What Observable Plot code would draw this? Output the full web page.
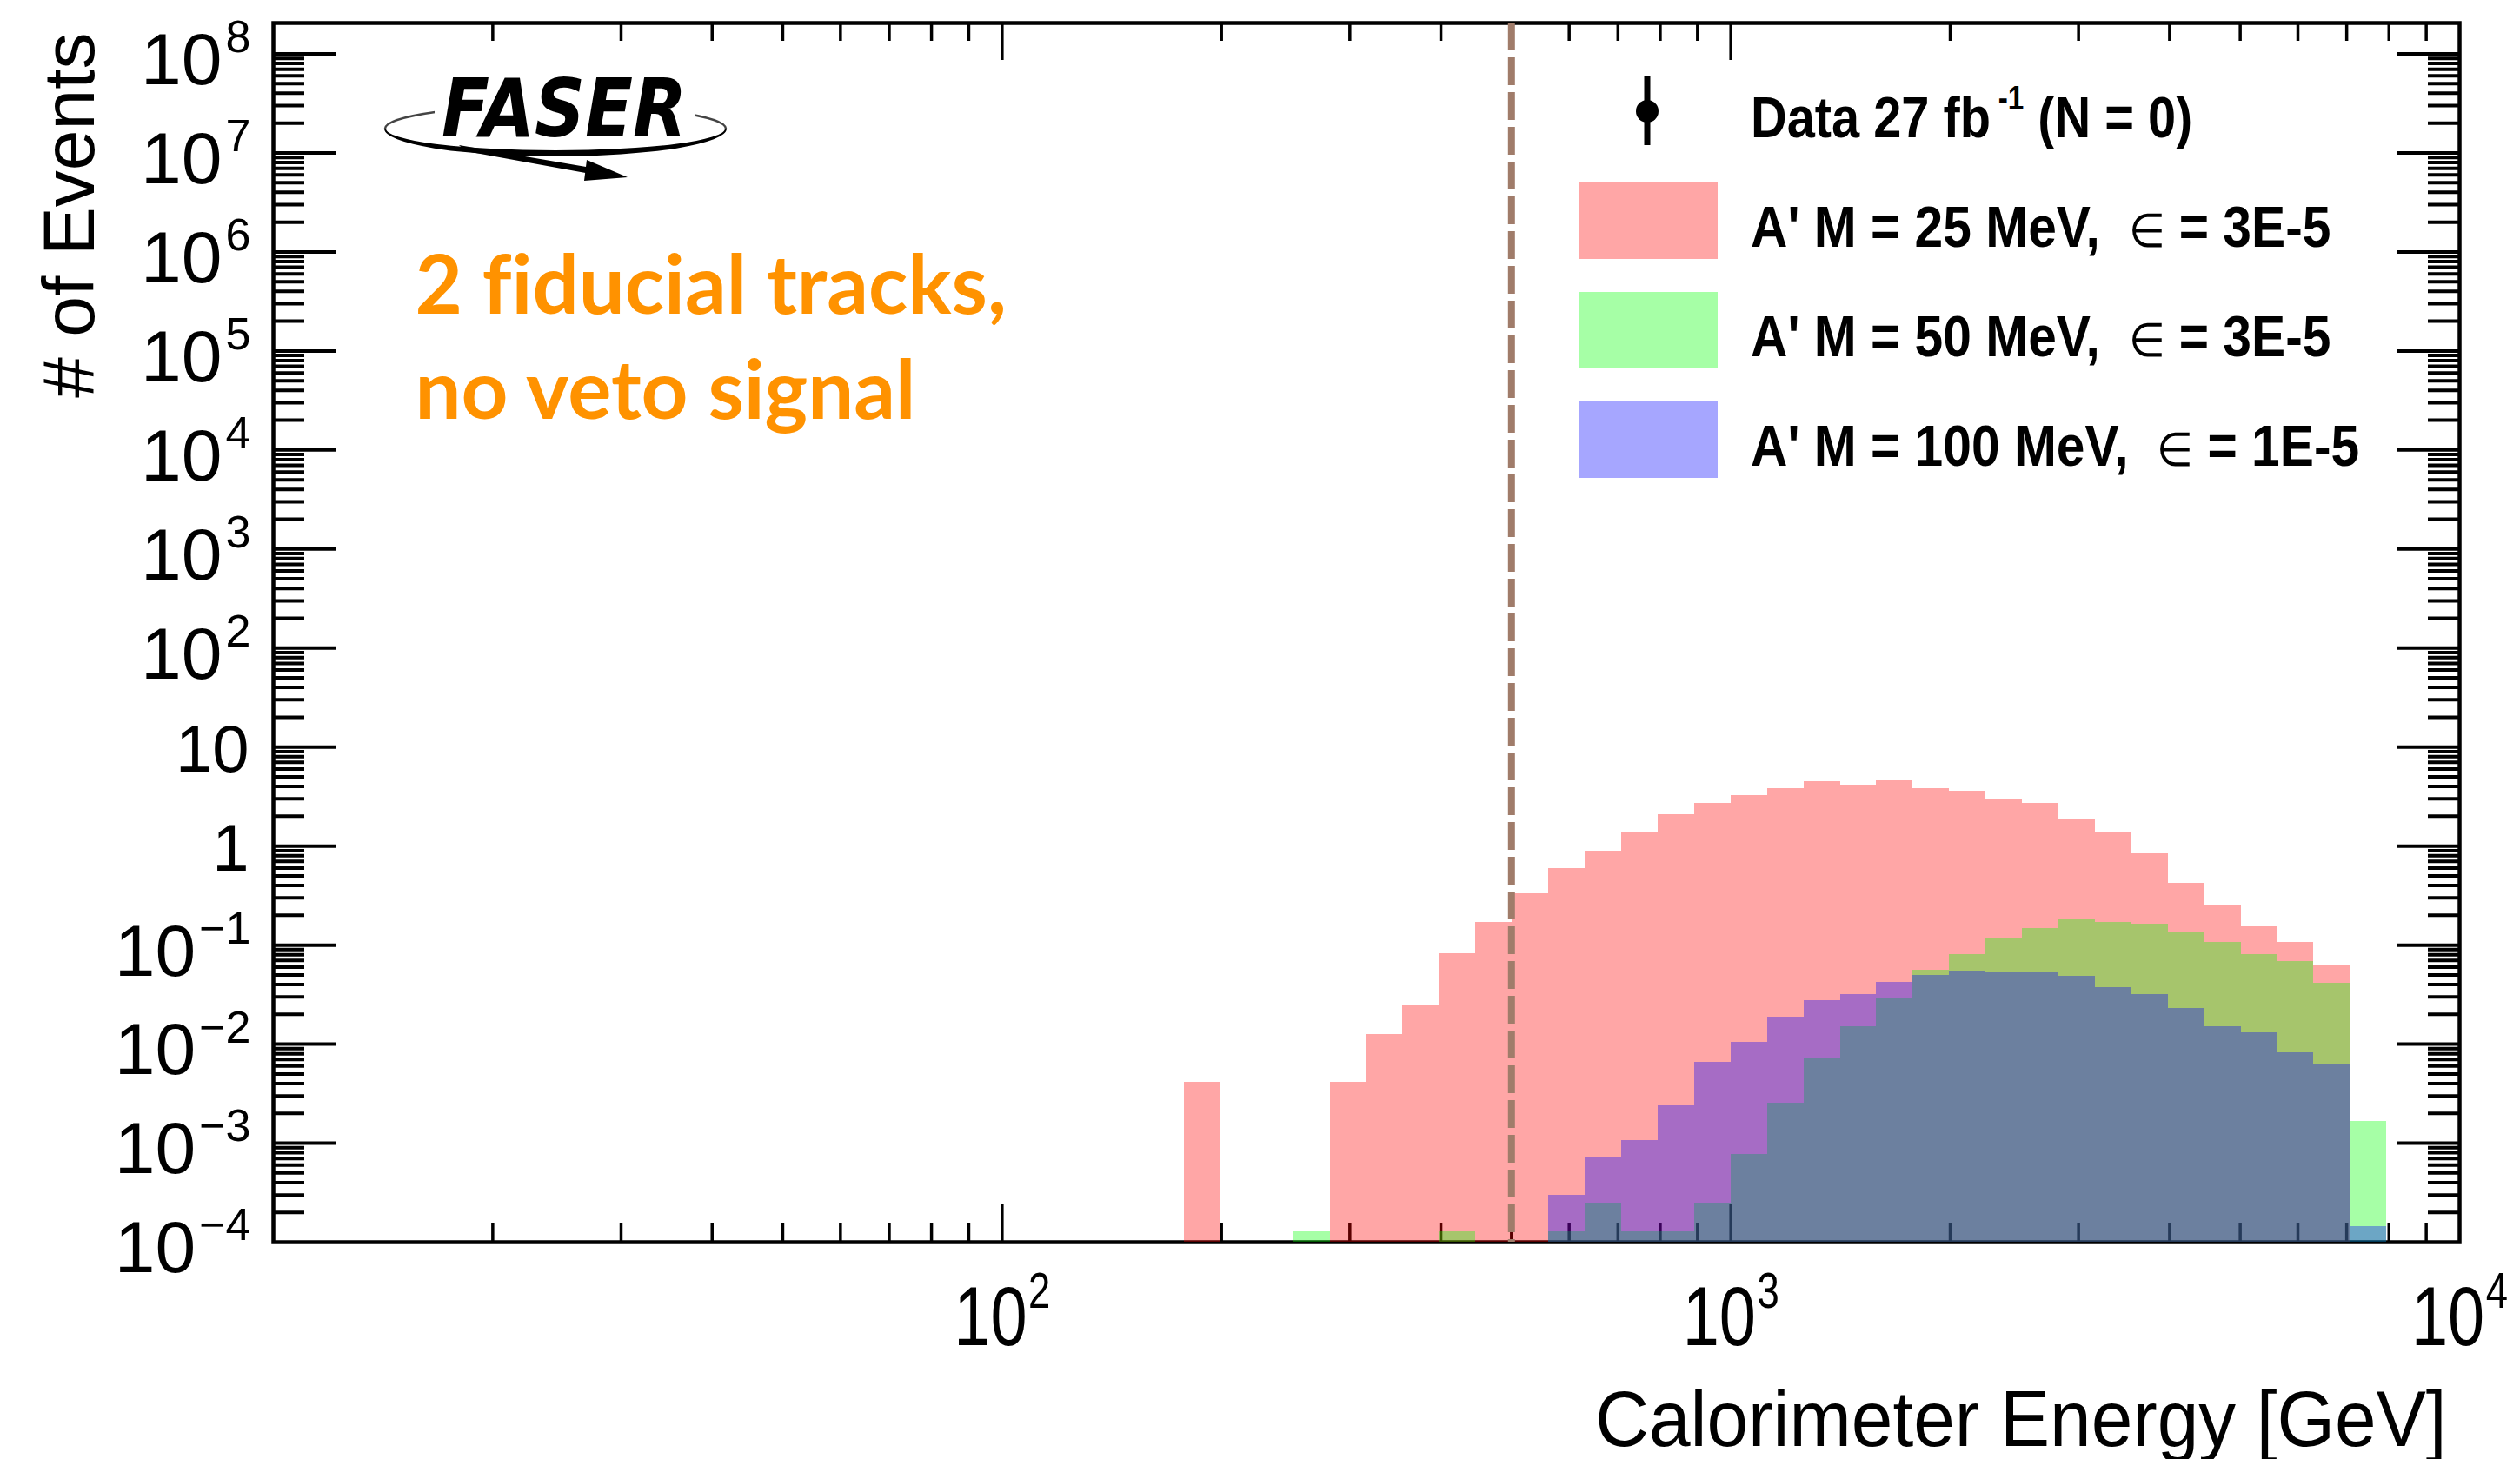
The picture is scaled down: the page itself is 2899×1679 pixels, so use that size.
<!DOCTYPE html>
<html>
<head>
<meta charset="utf-8">
<script src="https://cdn.jsdelivr.net/npm/d3@7"></script>
<script src="https://cdn.jsdelivr.net/npm/@observablehq/plot@0.6"></script>
<style>
  html, body { margin: 0; padding: 0; background: #fff; overflow: hidden; }
</style>
</head>
<body>
<div id="chart"></div>
<script>
// ---- Calorimeter energy spectra of A' signal samples (2 fiducial tracks, no veto) ----
// Bin edges in GeV: 20 bins per decade, from 10^2.25 to 10^3.90
const binEdges = [177.8, 199.5, 223.9, 251.2, 281.8, 316.2, 354.8, 398.1, 446.7, 501.2,
  562.3, 631.0, 707.9, 794.3, 891.3, 1000, 1122, 1259, 1413, 1585,
  1778, 1995, 2239, 2512, 2818, 3162, 3548, 3981, 4467, 5012,
  5623, 6310, 7079, 7943];

// Expected events per bin
const aprime25 = [4.1e-3, 0, 0, 0, 4.1e-3, 0.0124, 0.025, 0.082, 0.168, 0.331,
  0.589, 0.891, 1.40, 2.07, 2.68, 3.24, 3.81, 4.47, 4.09, 4.61,
  3.81, 3.57, 2.95, 2.68, 1.87, 1.36, 0.84, 0.417, 0.254, 0.153,
  0.107, 0.062, 0];
const aprime50 = [0, 0, 0, 1.28e-4, 0, 0, 0, 1.28e-4, 0, 0,
  1.28e-4, 2.5e-4, 1.28e-4, 1.28e-4, 2.5e-4, 7.7e-4, 2.55e-3, 7.1e-3, 0.0151, 0.0288,
  0.0563, 0.080, 0.118, 0.148, 0.179, 0.168, 0.163, 0.134, 0.107, 0.080,
  0.068, 0.0416, 1.67e-3];
const aprime100 = [0, 0, 0, 0, 0, 0, 0, 0, 0, 0,
  2.95e-4, 7.3e-4, 1.07e-3, 2.4e-3, 6.5e-3, 0.0105, 0.0189, 0.0277, 0.0314, 0.0419,
  0.0496, 0.0546, 0.0529, 0.0529, 0.048, 0.0372, 0.0314, 0.0229, 0.0151, 0.0129,
  8.2e-3, 6.3e-3, 1.44e-4];

const seriesColors = ["#ff0000", "#00ff00", "#0000ff"];
const seriesMass = ["25 MeV", "50 MeV", "100 MeV"];
const seriesEps = ["3E-5", "3E-5", "1E-5"];

// Energy threshold of the signal region
const cutEnergy = 500;

// Axes
const xDomain = [10, 10000];
const yDomain = [1e-4, 2.05e8];
const xLabelValues = [100, 1000, 10000];
const xLabelText = ["10^2", "10^3", "10^4"];
const yLabelValues = [1e-4, 1e-3, 1e-2, 1e-1, 1, 10, 1e2, 1e3, 1e4, 1e5, 1e6, 1e7, 1e8];
const yLabelText = ["10^\u22124", "10^\u22123", "10^\u22122", "10^\u22121", "1", "10",
  "10^2", "10^3", "10^4", "10^5", "10^6", "10^7", "10^8"];

const dataLabel = ["Data 27 fb", "-1", " (N = 0)"];
const annotation = "2 fiducial tracks,\nno veto signal";

// ---- layout ----
const W = 2899, H = 1679;
const M = {left: 314, right: 70, top: 26, bottom: 250};
const frameW = W - M.left - M.right;
const frameH = H - M.top - M.bottom;
const fillAlpha = 0.35;

// tick positions: decades and their 2..9 subdivisions, inside the domain
const inside = (v, d) => v > d[0] * 1.0001 && v < d[1] * 0.9;
const xMajor = xLabelValues.filter(v => inside(v, xDomain));
const xMinor = [];
for (const d of [10, 100, 1000]) for (let m = 2; m <= 9; ++m) xMinor.push(d * m);
const yMajor = yLabelValues.filter(v => inside(v, yDomain));
const yMinor = [];
for (const d of yLabelValues) for (let m = 2; m <= 9; ++m) if (inside(d * m, yDomain)) yMinor.push(d * m);

const toRows = values => values.flatMap((v, i) => v > 0 ? [{x1: binEdges[i], x2: binEdges[i + 1], y: v}] : []);
const series = [aprime25, aprime50, aprime100].map((vals, k) => ({rows: toRows(vals), color: seriesColors[k]}));

const xLabels = xLabelValues.map((v, i) => ({v, t: xLabelText[i]}));
const yLabels = yLabelValues.map((v, i) => ({v, t: yLabelText[i]}));

const tick = {stroke: "black"};
const rootFont = "'Liberation Sans', Arial, Helvetica, sans-serif";

// Legend box and experiment logo, placed in the upper part of the frame
function legendAndLogo(index, scales, values, dims) {
  const g = d3.create("svg:g").attr("text-anchor", "start");
  const lx = dims.marginLeft + 1502;   // swatch left edge
  const tx = dims.marginLeft + 1700;   // text start
  const row0 = dims.marginTop + 102;   // centre of first row
  const rowStep = 126;

  // data entry: point with vertical error bar
  const mx = lx + 79;
  g.append("line").attr("x1", mx).attr("x2", mx).attr("y1", row0 - 40).attr("y2", row0 + 39)
    .attr("stroke", "black").attr("stroke-width", 7);
  g.append("circle").attr("cx", mx).attr("cy", row0).attr("r", 13).attr("fill", "black");
  const dt = g.append("text").attr("class", "legend-text").attr("x", tx).attr("y", row0 + 30)
    .attr("font-family", rootFont).attr("font-weight", "bold").attr("font-size", 66);
  dt.append("tspan").text(dataLabel[0]);
  dt.append("tspan").attr("font-size", 38).attr("dy", -32).attr("dx", 10).text(dataLabel[1]);
  dt.append("tspan").attr("dy", 32).text(dataLabel[2]);

  seriesColors.forEach((c, k) => {
    const cy = row0 + rowStep * (k + 1);
    g.append("rect").attr("x", lx).attr("y", cy - 44).attr("width", 160).attr("height", 88)
      .attr("fill", c).attr("fill-opacity", fillAlpha);
    const t = g.append("text").attr("class", "legend-text").attr("x", tx).attr("y", cy + 30)
      .attr("font-family", rootFont).attr("font-weight", "bold").attr("font-size", 66);
    t.append("tspan").text(`A' M = ${seriesMass[k]},  `);
    t.append("tspan").attr("font-weight", "normal").attr("font-size", 54).text("\u2208");
    t.append("tspan").text(` = ${seriesEps[k]}`);
  });

  // FASER logo: orbit ellipse, lettering and arrow
  const logo = g.append("g");
  const cx = 639, cy = 148, rx = 196, ry = 27;
  logo.append("path")
    .attr("d", `M${cx - rx},${cy} A${rx},${ry} 0 0 1 ${cx + rx},${cy}`)
    .attr("fill", "none").attr("stroke", "#444").attr("stroke-width", 2.5);
  logo.append("path")
    .attr("d", `M${cx - rx - 1},${cy} A${rx + 1},${ry + 5} 0 0 0 ${cx + rx + 1},${cy} L${cx + rx - 1},${cy} A${rx - 1},${ry - 2} 0 0 1 ${cx - rx + 1},${cy} Z`)
    .attr("fill", "black");
  logo.append("rect").attr("x", 500).attr("y", 106).attr("width", 300).attr("height", 34).attr("fill", "white");
  logo.append("text").attr("class", "logo-text").attr("x", 508).attr("y", 157)
    .attr("font-family", "'DejaVu Sans', sans-serif").attr("font-weight", "bold").attr("font-style", "italic")
    .attr("font-size", 92).text("FASER");
  logo.append("path").attr("d", "M528,167 L680,193 L679,200 L536,174 Z").attr("fill", "black");
  logo.append("path").attr("d", "M675,184 L722,204 L672,208 Z").attr("fill", "black");
  return g.node();
}

const plot = Plot.plot({
  width: W, height: H,
  marginLeft: M.left, marginRight: M.right, marginTop: M.top, marginBottom: M.bottom,
  x: {type: "log", domain: xDomain, axis: null},
  y: {type: "log", domain: yDomain, axis: null},
  style: {fontFamily: rootFont, background: "white", color: "black"},
  marks: [
    Plot.frame({stroke: "black", strokeWidth: 4.5}),
    // ticks point into the frame on all four sides
    Plot.ruleX(xMinor, {...tick, strokeWidth: 3.5, insetTop: frameH - 22}),
    Plot.ruleX(xMajor, {...tick, strokeWidth: 3.5, insetTop: frameH - 44}),
    Plot.ruleX(xMinor, {...tick, strokeWidth: 3.5, insetBottom: frameH - 21}),
    Plot.ruleX(xMajor, {...tick, strokeWidth: 3.5, insetBottom: frameH - 43}),
    Plot.ruleY(yMinor, {...tick, strokeWidth: 4, insetRight: frameW - 36}),
    Plot.ruleY(yMajor, {...tick, strokeWidth: 4, insetRight: frameW - 72}),
    Plot.ruleY(yMinor, {...tick, strokeWidth: 4, insetLeft: frameW - 36}),
    Plot.ruleY(yMajor, {...tick, strokeWidth: 4, insetLeft: frameW - 72}),
    // translucent histograms, overlaid
    ...series.map(s => Plot.rect(s.rows, {
      x1: "x1", x2: "x2", y1: yDomain[0], y2: "y",
      fill: s.color, fillOpacity: fillAlpha, shapeRendering: "crispEdges"
    })),
    // energy cut
    Plot.ruleX([cutEnergy], {stroke: "#a07c6a", strokeWidth: 8, strokeDasharray: "32,8"}),
    // tick labels
    Plot.text(xLabels, {x: "v", text: "t", frameAnchor: "bottom", lineAnchor: "top", dy: 50,
      fontSize: 96, ariaDescription: "x-tick-label"}),
    Plot.text(yLabels.filter(d => d.t.includes("^")), {y: "v", text: "t", frameAnchor: "left",
      textAnchor: "end", dx: -26, dy: 8, fontSize: 84, ariaDescription: "y-tick-label-exp"}),
    Plot.text(yLabels.filter(d => !d.t.includes("^")), {y: "v", text: "t", frameAnchor: "left",
      textAnchor: "end", dx: -28, dy: 4, fontSize: 76, ariaDescription: "y-tick-label"}),
    // axis titles
    Plot.text(["Calorimeter Energy [GeV]"], {frameAnchor: "bottom-right", textAnchor: "end",
      lineAnchor: "bottom", dx: -15, dy: 234, fontSize: 91, ariaDescription: "x-title"}),
    Plot.text(["# of Events"], {frameAnchor: "top-left", textAnchor: "end", lineAnchor: "bottom",
      rotate: -90, dx: 107 - M.left, dy: 11, fontSize: 84, ariaDescription: "y-title"}),
    // selection annotation
    Plot.text([annotation], {frameAnchor: "top-left", textAnchor: "start", lineAnchor: "bottom",
      dx: 163, dy: 455, fontSize: 94, lineHeight: 121 / 94, fontWeight: "bold",
      fontFamily: "Lato, 'Open Sans', sans-serif", fill: "#ff9200", ariaDescription: "selection-note"}),
    legendAndLogo
  ]
});

document.getElementById("chart").append(plot);

// Find the text elements of a Plot.text mark by its description
const textsOf = desc => {
  const out = [];
  plot.querySelectorAll("g").forEach(g => {
    if (g.getAttribute("aria-description") === desc) g.querySelectorAll("text").forEach(t => out.push(t));
  });
  return out;
};

// "10^n" labels: turn the exponent into a raised, smaller tspan
const NS = "http://www.w3.org/2000/svg";
function superscripts(texts, fs, scale, raise, gap) {
  texts.forEach(t => {
    const s = t.textContent, k = s.indexOf("^");
    if (k < 0) return;
    t.textContent = "";
    const base = document.createElementNS(NS, "tspan");
    base.textContent = s.slice(0, k);
    const sup = document.createElementNS(NS, "tspan");
    sup.textContent = s.slice(k + 1);
    sup.setAttribute("font-size", fs * scale);
    sup.setAttribute("dy", -raise * fs);
    if (gap) sup.setAttribute("dx", gap);
    t.append(base, sup);
  });
}
// narrow the glyph run of a text to a fraction of its natural width
function squeeze(texts, sx) {
  texts.forEach(t => {
    const L = t.getComputedTextLength();
    t.setAttribute("textLength", L * sx);
    t.setAttribute("lengthAdjust", "spacingAndGlyphs");
  });
}
superscripts(textsOf("x-tick-label"), 96, 0.6, 0.44, 2);
superscripts(textsOf("y-tick-label-exp"), 84, 0.62, 0.44, 4);
squeeze(textsOf("x-tick-label"), 0.8);
squeeze(textsOf("x-title"), 0.94);
squeeze([...plot.querySelectorAll(".legend-text")], 0.89);
textsOf("selection-note").forEach(t => { t.style.fontVariantLigatures = "none"; });
plot.querySelectorAll(".logo-text").forEach(t => {
  t.setAttribute("textLength", 282);
  t.setAttribute("lengthAdjust", "spacingAndGlyphs");
});
</script>
</body>
</html>
